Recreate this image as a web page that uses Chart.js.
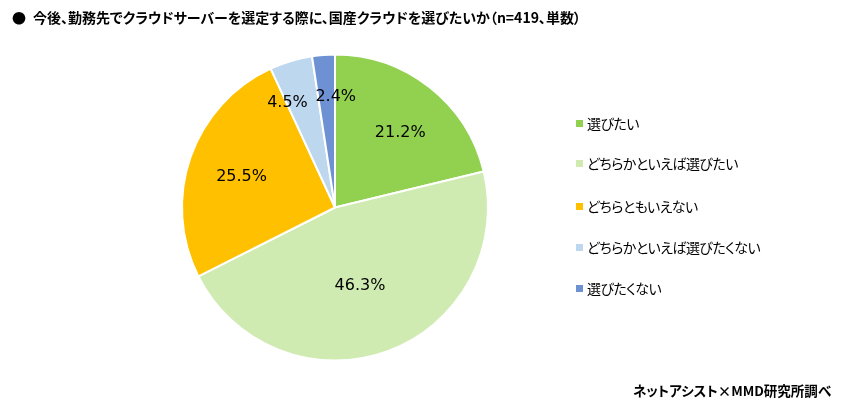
<!DOCTYPE html>
<html lang="ja">
<head>
<meta charset="utf-8">
<script src="https://cdn.jsdelivr.net/npm/chart.js@4/dist/chart.umd.min.js"></script>
<style>
  html, body { margin: 0; padding: 0; background: #fff; }
  #wrap { position: relative; width: 841px; height: 407px; overflow: hidden; font-family: "Noto Sans CJK JP", sans-serif; color: #000; }
  #c { position: absolute; left: 0; top: 0; }
  .title { position: absolute; top: 7px; font-weight: bold; font-size: 14px; white-space: nowrap; font-feature-settings: "palt"; line-height: 20px; }
  #legend { position: absolute; left: 576px; top: 0; }
  .lg { position: absolute; left: 0; white-space: nowrap; font-size: 14px; letter-spacing: -0.55px; line-height: 20px; font-feature-settings: "palt"; }
  .lg i { position: absolute; left: 0; top: 7px; width: 7px; height: 7px; }
  .lg span { position: absolute; left: 11px; top: 0; }
  #src { position: absolute; left: 633px; top: 380px; font-weight: bold; font-size: 13.5px; white-space: nowrap; font-feature-settings: "palt"; line-height: 20px; }
</style>
</head>
<body>
<div id="wrap">
  <canvas id="c" width="841" height="407"></canvas>
  <div class="title" style="left:12px">●</div>
  <div class="title" id="ttl" style="left:33px">今後、勤務先でクラウドサーバーを選定する際に、国産クラウドを選びたいか（n=419、単数）</div>
  <div id="legend"></div>
  <div id="src">ネットアシスト×MMD研究所調べ</div>
</div>
<script>
const categories = ["選びたい", "どちらかといえば選びたい", "どちらともいえない", "どちらかといえば選びたくない", "選びたくない"];
const values = [21.2, 46.3, 25.5, 4.5, 2.4];
const colors = ["#92D050", "#D0EBB2", "#FFC000", "#BDD7EE", "#6E91D4"];

// label placement (angle offset in degrees from slice middle, radius fraction)
const labelPlacement = [
  { da: 3.1, rf: 0.646 },
  { da: 2.5, rf: 0.537 },
  { da: -0.9, rf: 0.643 },
  { da: -7.6, rf: 0.753 },
  { da: 4.7, rf: 0.723 }
];
const legendTops = [113, 153, 196, 237, 278];

const legendEl = document.getElementById('legend');
categories.forEach((name, i) => {
  const d = document.createElement('div');
  d.className = 'lg';
  d.style.top = legendTops[i] + 'px';
  d.innerHTML = '<i style="background:' + colors[i] + '"></i><span>' + name + '</span>';
  legendEl.appendChild(d);
});

const labelPlugin = {
  id: 'sliceLabels',
  afterDatasetsDraw(chart) {
    const ctx = chart.ctx;
    const meta = chart.getDatasetMeta(0);
    ctx.save();
    ctx.font = '16px "DejaVu Sans", sans-serif';
    ctx.fillStyle = '#000';
    ctx.textAlign = 'center';
    ctx.textBaseline = 'middle';
    meta.data.forEach((arc, i) => {
      const p = arc.getProps(['x', 'y', 'startAngle', 'endAngle', 'outerRadius'], true);
      const mid = (p.startAngle + p.endAngle) / 2 + labelPlacement[i].da * Math.PI / 180;
      const r = p.outerRadius * labelPlacement[i].rf;
      const x = p.x + Math.cos(mid) * r;
      const y = p.y + Math.sin(mid) * r;
      ctx.fillText(values[i].toFixed(1) + '%', x, y);
    });
    ctx.restore();
  }
};

new Chart(document.getElementById('c'), {
  type: 'pie',
  data: {
    labels: categories,
    datasets: [{
      data: values,
      backgroundColor: colors,
      borderColor: '#ffffff',
      borderWidth: 2,
      radius: 153
    }]
  },
  options: {
    responsive: false,
    animation: false,
    devicePixelRatio: 1,
    layout: { padding: { left: 0, right: 171, top: 55, bottom: 47 } },
    plugins: {
      legend: { display: false },
      tooltip: { enabled: false }
    }
  },
  plugins: [labelPlugin]
});
</script>
</body>
</html>
